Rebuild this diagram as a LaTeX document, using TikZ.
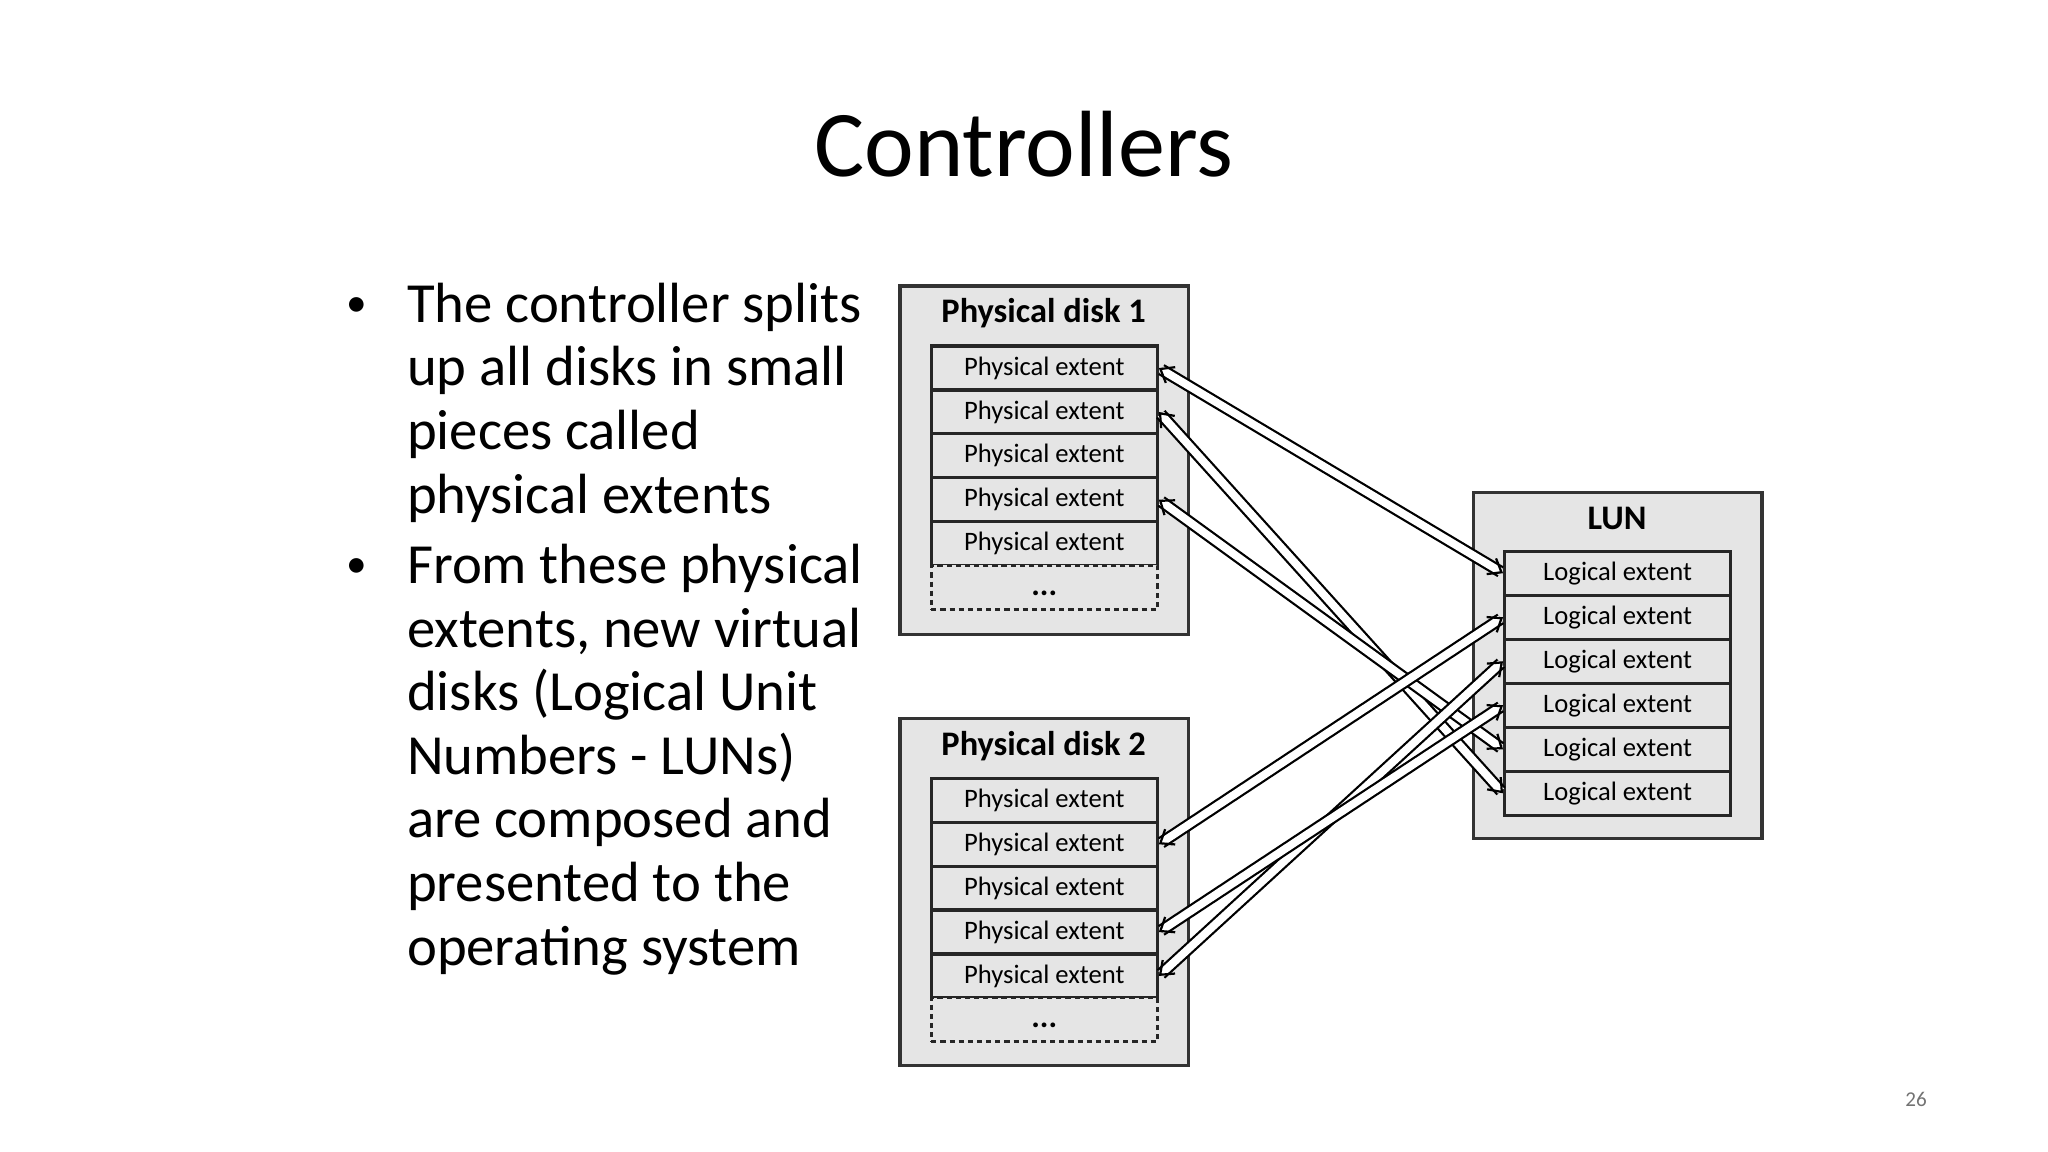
\documentclass[tikz,border=0pt]{standalone}
\usepackage{fontspec}
\setmainfont{Carlito}
\usetikzlibrary{arrows.meta}
\definecolor{boxgray}{gray}{0.9}
\tikzset{
  disk/.style={draw=black!80, fill=boxgray, line width=0.25mm},
  extent/.style={draw=black!85, fill=boxgray, line width=0.25mm, minimum width=17.3mm, minimum height=3.37mm, inner sep=0pt, font=\fontsize{5.8pt}{6pt}\selectfont},
  dots/.style={extent, dashed, dash pattern=on 0.4mm off 0.3mm, font=\bfseries\fontsize{7pt}{7pt}\selectfont, text depth=0pt, text height=1.2mm},
  head/.style={font=\bfseries\fontsize{7.5pt}{8pt}\selectfont},
  link/.style={double=white, double distance=0.6mm, line width=0.17mm, {Straight Barb[length=0.9mm,width=1.4mm]}-{Straight Barb[length=0.9mm,width=1.4mm]}},
  bul/.style={anchor=north west, align=left, inner sep=0pt, font=\fontsize{12.35pt}{13.85pt}\selectfont}
}
\begin{document}
\begin{tikzpicture}[x=0.1mm,y=-0.1mm]
  \useasboundingbox (0,0) rectangle (1568,882);

  % title and page number
  \node (title) at (784,110) {\fontsize{20.5pt}{24pt}\selectfont Controllers};
  \node[text=black!55] (page) at (1467,842) {\fontsize{4.6pt}{5pt}\selectfont 26};

  % bullets
  \node[bul] (b1) at (311,216) {The controller splits\\up all disks in small\\pieces called\\physical extents};
  \node[bul] (b2) at (311,416) {From these physical\\extents, new virtual\\disks (Logical Unit\\Numbers - LUNs)\\are composed and\\presented to the\\operating system};
  \node[font=\fontsize{9pt}{10pt}\selectfont] at (273,235) {\textbullet};
  \node[font=\fontsize{9pt}{10pt}\selectfont] at (273,435) {\textbullet};

  % disks
  \draw[disk] (689,219) rectangle (910,486);
  \draw[disk] (689,550) rectangle (910,816);
  \draw[disk] (1128,377) rectangle (1349,642);
  \node[head] at (799,240) {Physical disk 1};
  \node[head] at (799,571) {Physical disk 2};
  \node[head] at (1238,397) {LUN};

  % extents
  \foreach \i in {1,...,5} {
    \node[extent] (pa\i) at (799.5,{265+33.6*(\i-0.5)}) {Physical extent};
    \node[extent] (pb\i) at (799.5,{596+33.6*(\i-0.5)}) {Physical extent};
  }
  \node[dots] (pa6) at (799.5,{265+33.6*5.5}) {...};
  \node[dots] (pb6) at (799.5,{596+33.6*5.5}) {...};
  \foreach \i in {1,...,6}
    \node[extent] (l\i) at (1238.5,{422+33.7*(\i-0.5)}) {Logical extent};

  % mappings
  \draw[link] (pa1.east) -- (l1.west);
  \draw[link] (pa2.east) -- (l6.west);
  \draw[link] (pa4.east) -- (l5.west);
  \draw[link] (pb2.east) -- (l2.west);
  \draw[link] (pb5.east) -- (l3.west);
  \draw[link] (pb4.east) -- (l4.west);
\end{tikzpicture}
\end{document}
